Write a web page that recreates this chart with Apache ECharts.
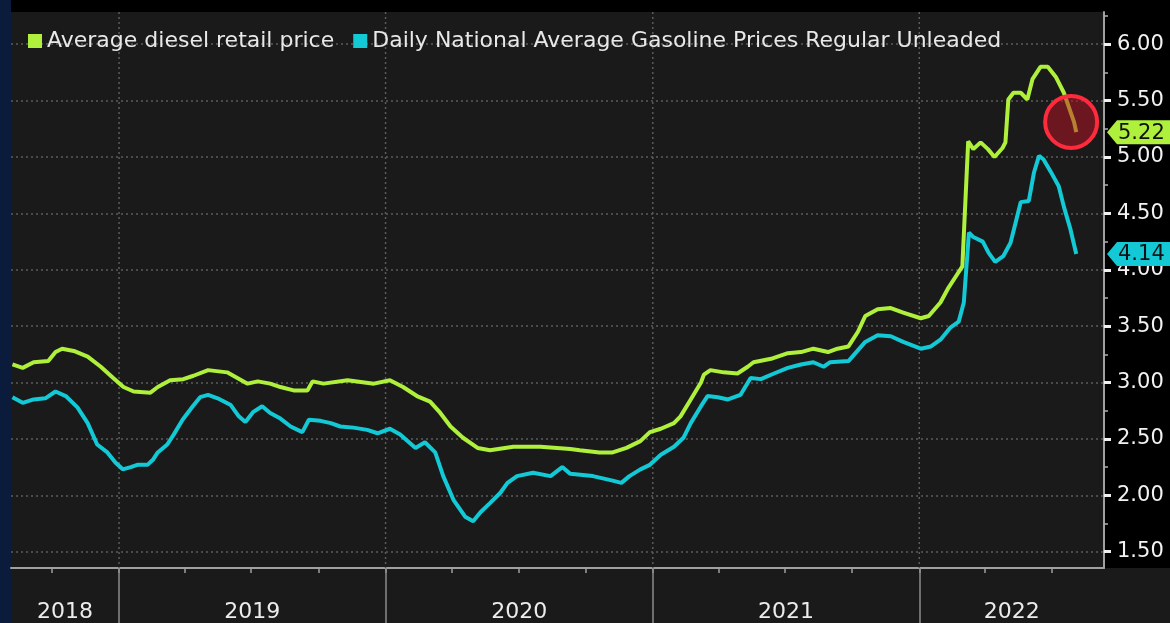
<!DOCTYPE html>
<html>
<head>
<meta charset="utf-8">
<script src="https://cdn.jsdelivr.net/npm/echarts@6/dist/echarts.min.js"></script>
<style>
  html, body { margin: 0; padding: 0; background: #1a1a1a; }
  #chart { width: 1170px; height: 623px; }
</style>
</head>
<body>
<div id="chart"></div>
<script>
// weekly-ish readings
const dieselDates = [
  '2018-08-08', '2018-08-22', '2018-09-06', '2018-09-26', '2018-10-06', '2018-10-15', '2018-10-31', '2018-11-19',
  '2018-12-07', '2018-12-24', '2019-01-07', '2019-01-21', '2019-02-13', '2019-02-23', '2019-03-12', '2019-03-30',
  '2019-04-13', '2019-05-03', '2019-05-29', '2019-06-12', '2019-06-26', '2019-07-10', '2019-07-27', '2019-08-10',
  '2019-08-28', '2019-09-16', '2019-09-23', '2019-10-08', '2019-11-10', '2019-12-16', '2020-01-07', '2020-01-25',
  '2020-02-13', '2020-03-02', '2020-03-16', '2020-03-30', '2020-04-16', '2020-05-06', '2020-05-23', '2020-06-24',
  '2020-07-31', '2020-09-10', '2020-09-23', '2020-10-20', '2020-11-07', '2020-11-26', '2020-12-15', '2020-12-28',
  '2021-01-12', '2021-01-30', '2021-02-08', '2021-02-22', '2021-03-08', '2021-03-12', '2021-03-21', '2021-04-08',
  '2021-04-27', '2021-05-11', '2021-05-19', '2021-06-12', '2021-07-05', '2021-07-23', '2021-08-09', '2021-08-29',
  '2021-09-11', '2021-09-26', '2021-10-09', '2021-10-19', '2021-11-05', '2021-11-23', '2021-12-10', '2022-01-03',
  '2022-01-14', '2022-01-30', '2022-02-09', '2022-02-20', '2022-03-01', '2022-03-09', '2022-03-16', '2022-03-26',
  '2022-04-05', '2022-04-14', '2022-04-25', '2022-04-29', '2022-05-03', '2022-05-10', '2022-05-20', '2022-05-29',
  '2022-06-05', '2022-06-16', '2022-06-26', '2022-07-07', '2022-07-18', '2022-07-25', '2022-08-01', '2022-08-04'
];
const dieselValues = [
  3.16, 3.13, 3.18, 3.19, 3.27, 3.30, 3.28, 3.23,
  3.14, 3.04, 2.96, 2.92, 2.91, 2.96, 3.02, 3.03,
  3.06, 3.11, 3.09, 3.04, 2.99, 3.01, 2.99, 2.96,
  2.93, 2.93, 3.01, 2.99, 3.02, 2.99, 3.02, 2.96,
  2.88, 2.83, 2.73, 2.61, 2.51, 2.42, 2.40, 2.43,
  2.43, 2.41, 2.40, 2.38, 2.38, 2.42, 2.48, 2.56,
  2.59, 2.64, 2.70, 2.85, 3.00, 3.07, 3.11, 3.09,
  3.08, 3.14, 3.18, 3.21, 3.26, 3.27, 3.30, 3.27,
  3.30, 3.32, 3.45, 3.59, 3.65, 3.66, 3.62, 3.57,
  3.59, 3.71, 3.83, 3.94, 4.03, 5.14, 5.07, 5.13,
  5.07, 5.00, 5.08, 5.13, 5.51, 5.57, 5.57, 5.51,
  5.69, 5.80, 5.80, 5.71, 5.57, 5.44, 5.31, 5.22
];

const gasDates = [
  '2018-08-08', '2018-08-22', '2018-09-06', '2018-09-22', '2018-10-06', '2018-10-20', '2018-11-05', '2018-11-19',
  '2018-12-02', '2018-12-16', '2018-12-27', '2019-01-06', '2019-01-17', '2019-01-26', '2019-02-09', '2019-02-17',
  '2019-02-23', '2019-03-08', '2019-03-17', '2019-03-29', '2019-04-12', '2019-04-22', '2019-05-03', '2019-05-16',
  '2019-06-03', '2019-06-14', '2019-06-23', '2019-07-04', '2019-07-16', '2019-07-27', '2019-08-10', '2019-08-24',
  '2019-09-09', '2019-09-18', '2019-10-04', '2019-10-18', '2019-10-31', '2019-11-18', '2019-12-07', '2019-12-21',
  '2020-01-07', '2020-01-21', '2020-02-11', '2020-02-24', '2020-03-09', '2020-03-20', '2020-04-03', '2020-04-19',
  '2020-04-30', '2020-05-10', '2020-05-23', '2020-06-06', '2020-06-16', '2020-06-29', '2020-07-21', '2020-08-14',
  '2020-08-30', '2020-09-10', '2020-10-11', '2020-11-07', '2020-11-19', '2020-11-30', '2020-12-15', '2020-12-28',
  '2021-01-12', '2021-01-30', '2021-02-12', '2021-02-22', '2021-03-08', '2021-03-17', '2021-03-31', '2021-04-14',
  '2021-05-01', '2021-05-15', '2021-05-29', '2021-06-16', '2021-07-05', '2021-07-23', '2021-08-09', '2021-08-23',
  '2021-09-01', '2021-09-26', '2021-10-19', '2021-11-05', '2021-11-23', '2021-12-10', '2022-01-03', '2022-01-17',
  '2022-01-30', '2022-02-13', '2022-02-24', '2022-03-03', '2022-03-10', '2022-03-16', '2022-03-29', '2022-04-06',
  '2022-04-15', '2022-04-26', '2022-05-06', '2022-05-13', '2022-05-20', '2022-05-31', '2022-06-07', '2022-06-14',
  '2022-06-20', '2022-06-30', '2022-07-11', '2022-07-18', '2022-07-27', '2022-08-04'
];
const gasValues = [
  2.87, 2.82, 2.85, 2.86, 2.92, 2.88, 2.78, 2.64,
  2.45, 2.38, 2.29, 2.23, 2.25, 2.27, 2.27, 2.32,
  2.38, 2.45, 2.54, 2.67, 2.79, 2.87, 2.89, 2.86,
  2.80, 2.70, 2.65, 2.74, 2.79, 2.73, 2.68, 2.61,
  2.56, 2.67, 2.66, 2.64, 2.61, 2.60, 2.58, 2.55,
  2.59, 2.54, 2.42, 2.47, 2.38, 2.17, 1.96, 1.81,
  1.77, 1.85, 1.93, 2.02, 2.11, 2.17, 2.20, 2.17,
  2.25, 2.19, 2.17, 2.13, 2.11, 2.17, 2.23, 2.27,
  2.36, 2.43, 2.51, 2.64, 2.79, 2.88, 2.87, 2.85,
  2.89, 3.04, 3.03, 3.08, 3.13, 3.16, 3.18, 3.14,
  3.18, 3.19, 3.36, 3.42, 3.41, 3.36, 3.30, 3.32,
  3.38, 3.49, 3.54, 3.71, 4.33, 4.29, 4.25, 4.15,
  4.07, 4.12, 4.24, 4.42, 4.60, 4.61, 4.86, 5.01,
  4.98, 4.87, 4.74, 4.56, 4.36, 4.14
];

const years = [2018, 2019, 2020, 2021, 2022];
const yTicks = [1.5, 2, 2.5, 3, 3.5, 4, 4.5, 5, 5.5, 6];
const yMinorTicks = [1.75, 2.25, 2.75, 3.25, 3.75, 4.25, 4.75, 5.25, 5.75, 6.25];

const xMin = '2018-08-06';
const xMax = '2022-09-11';
const yMin = 1.355;
const yMax = 6.286;

// red highlight circle around the latest diesel move
const circleDate = '2022-07-28';
const circleValue = 5.31;

const GREEN = '#aef03c';
const CYAN = '#12c9d5';
const FONT = 'DejaVu Sans';
const GRID_LINE = { color: '#5c5c5c', type: [2, 3], width: 1.5 };

const toT = d => +new Date(d + 'T00:00:00');
const minT = toT(xMin);
const maxT = toT(xMax);
const yearStarts = years.map(y => +new Date(y, 0, 1)).filter(t => t > minT && t < maxT);
const yearMids = years.map(y => {
  const s = Math.max(+new Date(y, 0, 1), minT);
  const e = Math.min(+new Date(y + 1, 0, 1), maxT);
  return (s + e) / 2;
});
const quarterStarts = [];
years.forEach(y => [0, 3, 6, 9].forEach(m => {
  const t = +new Date(y, m, 1);
  if (t > minT && t < maxT) quarterStarts.push(t);
}));

const chart = echarts.init(document.getElementById('chart'));

const bgRects = [
  { id: 'navy', type: 'rect', z: -10, shape: { x: 0, y: 0, width: 11, height: 623 }, style: { fill: '#0b1b3c' } },
  { id: 'topband', type: 'rect', z: -10, shape: { x: 11, y: 0, width: 1159, height: 12 }, style: { fill: '#000' } },
  { id: 'rightpanel', type: 'rect', z: -10, shape: { x: 1104, y: 0, width: 66, height: 568 }, style: { fill: '#000' } }
];

const hiddenSplit = { show: false, lineStyle: { opacity: 0 } };

const option = {
  animation: false,
  backgroundColor: '#1a1a1a',
  textStyle: { fontFamily: FONT },
  legend: {
    left: 23,
    top: 25,
    icon: 'rect',
    itemWidth: 14,
    itemHeight: 14,
    itemGap: 19,
    textStyle: { color: '#e8e8e8', fontSize: 22, fontFamily: FONT },
    data: ['Average diesel retail price', 'Daily National Average Gasoline Prices Regular Unleaded']
  },
  grid: {
    left: 11,
    right: 66,
    top: 12,
    bottom: 55,
    show: true,
    backgroundColor: '#1a1a1a',
    borderWidth: 0
  },
  xAxis: [
    {
      type: 'value',
      min: minT,
      max: maxT,
      position: 'bottom',
      axisLine: { show: true, lineStyle: { color: '#a0a0a0', width: 2 } },
      axisTick: { show: true, customValues: quarterStarts, length: 5, lineStyle: { color: '#a0a0a0', width: 1.5 } },
      axisLabel: {
        customValues: yearMids,
        formatter: v => String(new Date(v).getFullYear()),
        color: '#ececec',
        fontSize: 22,
        fontFamily: FONT,
        margin: 33
      },
      splitLine: hiddenSplit
    },
    {
      type: 'value',
      min: minT,
      max: maxT,
      position: 'bottom',
      offset: 0,
      axisLine: { show: false },
      axisTick: { show: true, customValues: yearStarts, length: 55, lineStyle: { color: '#8c8c8c', width: 1.5 } },
      axisLabel: { show: false },
      splitLine: hiddenSplit
    }
  ],
  yAxis: [
    {
      type: 'value',
      position: 'right',
      min: yMin,
      max: yMax,
      splitNumber: 10,
      axisLine: { show: true, lineStyle: { color: '#a0a0a0', width: 2 } },
      axisTick: { show: true, customValues: yTicks, length: 7, lineStyle: { color: '#f0f0f0', width: 3 } },
      axisLabel: {
        customValues: yTicks,
        formatter: v => v.toFixed(2),
        color: '#f2f2f2',
        fontSize: 21,
        fontFamily: FONT,
        margin: 13
      },
      splitLine: { show: true, lineStyle: GRID_LINE }
    },
    {
      type: 'value',
      position: 'right',
      min: yMin,
      max: yMax,
      axisLine: { show: false },
      axisTick: { show: true, customValues: yMinorTicks, length: 4, lineStyle: { color: '#b0b0b0', width: 1.5 } },
      axisLabel: { show: false },
      splitLine: hiddenSplit
    }
  ],
  series: [
    {
      // dotted year separators inside the plot
      name: 'yearLines',
      type: 'custom',
      silent: true,
      z: 1,
      xAxisIndex: 0,
      yAxisIndex: 0,
      data: yearStarts.map(t => [t, yMin]),
      renderItem: (params, api) => {
        const t = api.value(0);
        const p0 = api.coord([t, yMax]);
        const p1 = api.coord([t, yMin]);
        return {
          type: 'line',
          shape: { x1: p0[0], y1: p0[1], x2: p1[0], y2: p1[1] },
          style: { stroke: GRID_LINE.color, lineWidth: GRID_LINE.width, lineDash: GRID_LINE.type }
        };
      }
    },
    {
      name: 'Average diesel retail price',
      type: 'line',
      xAxisIndex: 0,
      yAxisIndex: 0,
      showSymbol: false,
      symbol: 'none',
      color: GREEN,
      lineStyle: { width: 4, color: GREEN },
      data: dieselDates.map((d, i) => [toT(d), dieselValues[i]]),
      markPoint: {
        silent: true,
        symbol: 'circle',
        symbolSize: 52,
        itemStyle: { color: 'rgba(190, 20, 35, 0.5)', borderColor: '#ff2b3d', borderWidth: 4 },
        label: { show: false },
        data: [{ coord: [toT(circleDate), circleValue] }]
      }
    },
    {
      name: 'Daily National Average Gasoline Prices Regular Unleaded',
      type: 'line',
      xAxisIndex: 0,
      yAxisIndex: 0,
      showSymbol: false,
      symbol: 'none',
      color: CYAN,
      lineStyle: { width: 4, color: CYAN },
      data: gasDates.map((d, i) => [toT(d), gasValues[i]])
    }
  ],
  graphic: bgRects
};

chart.setOption(option);

// last-value badges on the right axis
const badgeX = chart.convertToPixel({ xAxisIndex: 0 }, maxT);
const badges = [[dieselValues, GREEN, 'b1'], [gasValues, CYAN, 'b2']].map(([vals, color, id]) => {
  const v = vals[vals.length - 1];
  const y = chart.convertToPixel({ yAxisIndex: 0 }, v);
  return {
    id: id,
    type: 'group',
    x: badgeX + 3,
    y: y,
    z: 20,
    children: [
      { type: 'polygon', z: 20, shape: { points: [[0, 0], [10, -12], [70, -12], [70, 12], [10, 12]] }, style: { fill: color } },
      { type: 'text', z: 21, x: 11, y: 1, style: { text: v.toFixed(2), fill: '#111', font: '21px "DejaVu Sans"', verticalAlign: 'middle' } }
    ]
  };
});
chart.setOption({ graphic: bgRects.concat(badges) });
</script>
</body>
</html>
